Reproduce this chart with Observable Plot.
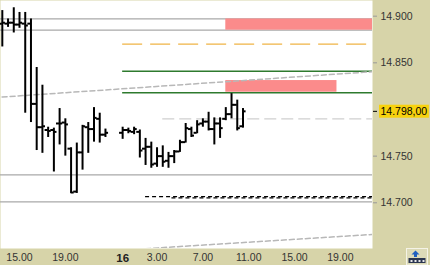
<!DOCTYPE html>
<html>
<head>
<meta charset="utf-8">
<script src="https://cdn.jsdelivr.net/npm/d3@7"></script>
<script src="https://cdn.jsdelivr.net/npm/@observablehq/plot@0.6"></script>
<style>
  html, body { margin: 0; padding: 0; background: #d7d4a9; }
  #chart svg { display: block; }
</style>
</head>
<body>
<div id="chart"></div>
<script>
// 30-minute OHLC bars; time is in hours counted from midnight of the 15th
const barHours = [
  13.5, 14, 14.5, 15, 15.5, 16, 16.5, 17, 17.5, 18, 18.5, 19, 19.5, 20, 20.5, 21, 21.5, 22, 22.5,
  24, 24.5, 25, 25.5, 26, 26.5, 27, 27.5, 28, 28.5, 29, 29.5, 30, 30.5, 31, 31.5, 32, 32.5, 33, 33.5, 34, 34.5
];
const opens = [
  14892, 14892, 14893, 14891, 14892, 14892, 14806, 14781, 14778, 14778, 14785, 14786, 14758, 14712, 14754, 14781, 14779, 14790, 14773,
  14775, 14778, 14776, 14776, 14758, 14760, 14742, 14750, 14745, 14750, 14755, 14765, 14779, 14775, 14785, 14787, 14779, 14785, 14790, 14795, 14805, 14782
];
const highs = [
  14906, 14897, 14909, 14904, 14904, 14897, 14845, 14826, 14781, 14780, 14801, 14790, 14759, 14764, 14783, 14786, 14802, 14796, 14779,
  14781, 14780, 14781, 14778, 14769, 14765, 14759, 14761, 14754, 14756, 14767, 14785, 14781, 14788, 14790, 14797, 14791, 14791, 14802, 14817, 14810, 14801
];
const lows = [
  14867, 14888, 14882, 14887, 14796, 14786, 14756, 14753, 14770, 14733, 14762, 14750, 14710, 14710, 14735, 14753, 14765, 14764, 14770,
  14768, 14774, 14773, 14748, 14740, 14737, 14738, 14738, 14737, 14742, 14754, 14764, 14770, 14774, 14781, 14777, 14762, 14769, 14788, 14790, 14777, 14780
];
const closes = [
  14893, 14893, 14891, 14893, 14890, 14806, 14781, 14782, 14777, 14776, 14785, 14784, 14711, 14754, 14782, 14779, 14791, 14773, 14775,
  14778, 14777, 14779, 14756, 14760, 14741, 14750, 14744, 14750, 14755, 14765, 14780, 14772, 14784, 14787, 14779, 14785, 14780, 14795, 14805, 14780, 14798
];

// horizontal levels
const grayLevels = [14897, 14885, 14730, 14701];
const orangeLevels = [14870];
const orangeFrom = 24;
const greenLevels = [14841, 14818];
const greenFrom = 24;
const lightLevels = [14790];
const lightFrom = 27.5;
const blackLevels = [14706.5, 14705.2];
const blackFrom = [26, 28.3];

// shaded zones
const zoneStart = [33, 33];
const zoneEnd = [48, 42.7];
const zoneLow = [14885, 14818.5];
const zoneHigh = [14897, 14831];

// trend channel lines (two points each)
const upperTrendHours = [10, 46];
const upperTrendPrices = [14810.4, 14840.7];
const lowerTrendHours = [26, 46];
const lowerTrendPrices = [14650.8, 14666.2];

// axes
const priceTicks = [14700, 14750, 14850, 14900];
const timeTicks = [15, 19, 27, 31, 35, 39, 43];
const timeTickLabels = ["15.00", "19.00", "3.00", "7.00", "11.00", "15.00", "19.00"];
const dayTicks = [24];
const dayTickLabels = ["16"];

const xDomain = [13.342, 45.8];
const yDomain = [14651, 14916.8];

const bars = barHours.map((t, i) => ({t, open: opens[i], high: highs[i], low: lows[i], close: closes[i]}));
const lastClose = closes[closes.length - 1];

const locale = d3.formatLocale({decimal: ",", thousands: ".", grouping: [3], currency: ["", "€"]});
const fmtInt = locale.format(",.0f");
const fmtDec = locale.format(",.2f");
const timeLabel = new Map(timeTicks.map((t, i) => [t, timeTickLabels[i]]));
const dayLabel = new Map(dayTicks.map((t, i) => [t, dayTickLabels[i]]));

const zones = zoneStart.map((s, i) => ({s, e: zoneEnd[i], lo: zoneLow[i], hi: zoneHigh[i]}));
const upperTrend = upperTrendHours.map((t, i) => ({t, p: upperTrendPrices[i]}));
const lowerTrend = lowerTrendHours.map((t, i) => ({t, p: lowerTrendPrices[i]}));
const blackLines = blackLevels.map((p, i) => ({p, from: blackFrom[i]}));
const tick = 0.27;

const chart = Plot.plot({
  width: 430,
  height: 265,
  marginLeft: 0,
  marginRight: 58,
  marginTop: 0,
  marginBottom: 17,
  style: {background: "#d7d4a9", fontFamily: "Liberation Sans, Arial, sans-serif", fontSize: "10.5px", color: "#333"},
  x: {type: "linear", domain: xDomain},
  y: {type: "linear", domain: yDomain},
  marks: [
    Plot.frame({fill: "white", stroke: "none"}),
    Plot.ruleY(grayLevels, {stroke: "#a9a9a9", strokeWidth: 1.3}),
    Plot.rect(zones, {x1: "s", x2: "e", y1: "lo", y2: "hi", fill: "#fb8b8b", clip: true}),
    Plot.ruleY(orangeLevels, {x1: orangeFrom, x2: xDomain[1], stroke: "#f0b445", strokeWidth: 1.4, strokeDasharray: "20,8"}),
    Plot.ruleY(greenLevels, {x1: greenFrom, x2: xDomain[1], stroke: "#2e7a2e", strokeWidth: 1.4}),
    Plot.ruleY(lightLevels, {x1: lightFrom, x2: xDomain[1], stroke: "#cfcfcf", strokeWidth: 1.3, strokeDasharray: "12,5"}),
    Plot.ruleY(blackLines, {y: "p", x1: "from", x2: xDomain[1], stroke: "black", strokeWidth: 1.2, strokeDasharray: "4,3"}),
    Plot.line(upperTrend, {x: "t", y: "p", stroke: "#b8b8b8", strokeWidth: 1.5, strokeDasharray: "5,3", clip: true}),
    Plot.line(lowerTrend, {x: "t", y: "p", stroke: "#b8b8b8", strokeWidth: 1.5, strokeDasharray: "5,3", clip: true}),
    // OHLC bars: high-low range, open tick to the left, close tick to the right
    Plot.ruleX(bars, {x: "t", y1: "low", y2: "high", stroke: "black", strokeWidth: 2}),
    Plot.ruleY(bars, {y: "open", x1: d => d.t - tick, x2: "t", stroke: "black", strokeWidth: 2}),
    Plot.ruleY(bars, {y: "close", x1: "t", x2: d => d.t + tick, stroke: "black", strokeWidth: 2}),
    Plot.axisY(priceTicks, {anchor: "right", tickFormat: fmtInt, tickSize: 4, tickPadding: 4, stroke: "#9a9a9a", fill: "#333", label: null}),
    Plot.axisY([lastClose], {anchor: "right", tickFormat: fmtDec, tickSize: 4, tickPadding: 4, stroke: "black", fill: "black", label: null}),
    Plot.axisX(timeTicks, {tickFormat: d => timeLabel.get(d), tickSize: 0, tickPadding: 5, fill: "#333", label: null}),
    Plot.axisX(dayTicks, {tickFormat: d => dayLabel.get(d), tickSize: 0, tickPadding: 5, fill: "#222", fontWeight: "bold", fontSize: 11.5, label: null})
  ]
});

document.getElementById("chart").append(chart);

// yellow marker behind the last price label
const lastText = Array.from(chart.querySelectorAll("text")).find(t => t.textContent === fmtDec(lastClose));
if (lastText) {
  const b = lastText.getBBox();
  const ns = "http://www.w3.org/2000/svg";
  const r = document.createElementNS(ns, "rect");
  const ctm = lastText.getCTM();
  const ox = ctm ? ctm.e : 0, oy = ctm ? ctm.f : 0;
  r.setAttribute("x", ox + b.x - 1.5);
  r.setAttribute("y", oy + b.y);
  r.setAttribute("width", b.width + 3);
  r.setAttribute("height", b.height + 1);
  r.setAttribute("fill", "#f7d20e");
  const g = lastText.closest("g[aria-label]") || lastText.parentNode;
  g.parentNode.insertBefore(r, g);
}

// small toolbar button in the bottom-right corner
const btn = d3.select(chart).append("g").attr("transform", "translate(406,248)");
btn.append("rect").attr("x", 0.5).attr("y", 0.5).attr("width", 21).attr("height", 16.5)
  .attr("fill", "#dcdab8").attr("stroke", "#f4f3e6");
btn.append("path").attr("d", "M9.5,2.5 L13.5,6.5 L11,6.5 L11,9 L8,9 L8,6.5 L5.5,6.5 Z").attr("fill", "#1f5fbf");
btn.append("rect").attr("x", 2.5).attr("y", 10).attr("width", 17).attr("height", 5).attr("fill", "#2a3550");
for (let i = 0; i < 4; i++) {
  btn.append("rect").attr("x", 4.5 + i * 4).attr("y", 12).attr("width", 2).attr("height", 2).attr("fill", "#e8e8e8");
}
</script>
</body>
</html>
